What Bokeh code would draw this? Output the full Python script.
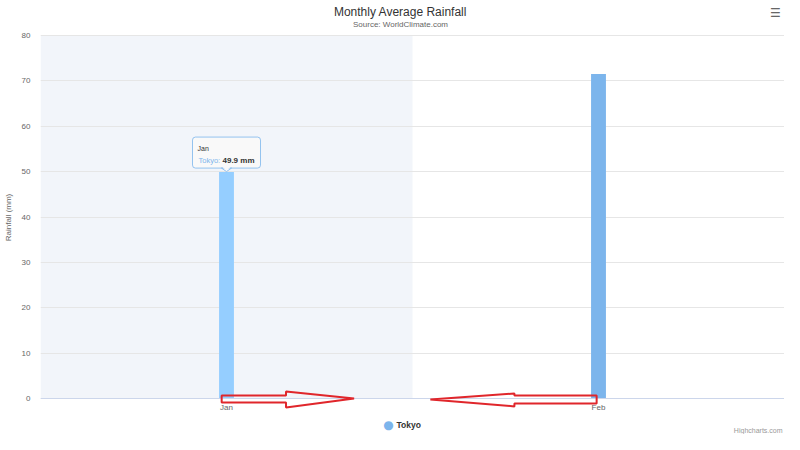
from bokeh.embed import file_html
from bokeh.resources import INLINE
from bokeh.plotting import figure
from bokeh.models import FixedTicker, Label, PolyAnnotation, BoxAnnotation

months = ["Jan", "Feb"]
tokyo = [49.9, 71.5]
y_ticks = [0, 10, 20, 30, 40, 50, 60, 70, 80]
series_name = "Tokyo"
unit = "mm"
hovered = 0  # index of the category with the tooltip

BLUE = "#7cb5ec"
BLUE_HOVER = "#95ceff"
RED = "#e0262b"
FONT = "Liberation Sans"

W, H = 784, 434
LEFT_PX = 40
TOP_PX, ZERO_PX = 35, 398   # where 80 and 0 sit, in pixels from the top
per_px = (y_ticks[-1] - y_ticks[0]) / (ZERO_PX - TOP_PX)
cat_px = (W - LEFT_PX) / len(months)

xs = list(range(len(months)))

# the frame spans the whole height so titles/legend can live inside it
p = figure(width=W, height=H, x_range=(-0.5, len(months) - 0.5),
           y_range=(y_ticks[0] - (H - ZERO_PX) * per_px,
                    y_ticks[-1] + TOP_PX * per_px),
           tools="", toolbar_location=None, output_backend="svg",
           min_border_left=LEFT_PX, min_border_right=0,
           min_border_top=0, min_border_bottom=0,
           outline_line_color=None)

# hover band behind the hovered category
band = p.quad(left=[xs[hovered] - 0.5], right=[xs[hovered] + 0.5],
              bottom=[y_ticks[0]], top=[y_ticks[-1]],
              fill_color="#f2f5fa", line_color=None)
band.level = "image"

colors = [BLUE_HOVER if i == hovered else BLUE for i in xs]
p.vbar(x=xs, top=tokyo, width=0.04, fill_color=colors, line_color=None)

# axes
p.xaxis.fixed_location = 0
p.xaxis.ticker = FixedTicker(ticks=xs)
p.xaxis.major_label_overrides = {i: m for i, m in enumerate(months)}
p.xaxis.axis_line_color = "#ccd6eb"
p.xaxis.major_tick_line_color = None
p.xaxis.major_tick_out = 0
p.xaxis.minor_tick_line_color = None
p.xaxis.major_label_standoff = 4

p.yaxis.ticker = FixedTicker(ticks=y_ticks)
p.yaxis.axis_label = "Rainfall (mm)"
p.yaxis.axis_line_color = None
p.yaxis.major_tick_line_color = None
p.yaxis.major_tick_out = 0
p.yaxis.minor_tick_line_color = None
p.yaxis.major_label_standoff = 10
p.yaxis.axis_label_standoff = 6

for ax in (p.xaxis, p.yaxis):
    ax.major_label_text_font = FONT
    ax.major_label_text_font_size = "8px"
    ax.major_label_text_color = "#666666"
    ax.axis_label_text_font = FONT
    ax.axis_label_text_font_size = "8px"
    ax.axis_label_text_font_style = "normal"
    ax.axis_label_text_color = "#666666"

p.xgrid.grid_line_color = None
p.ygrid.grid_line_color = "#e6e6e6"

# red hollow arrows drawn on the picture
a = xs[0]
p.add_layout(PolyAnnotation(
    xs=[a - 0.013, a + 0.16, a + 0.16, a + 0.343, a + 0.16, a + 0.16, a - 0.013],
    ys=[0.65, 0.65, 1.52, 0.0, -1.96, -0.87, -0.87],
    fill_alpha=0, line_color=RED, line_alpha=1, line_width=2))
b = xs[1]
p.add_layout(PolyAnnotation(
    xs=[b - 0.005, b - 0.226, b - 0.226, b - 0.452, b - 0.226, b - 0.226, b - 0.005],
    ys=[0.65, 0.65, 1.09, -0.22, -1.74, -1.09, -1.09],
    fill_alpha=0, line_color=RED, line_alpha=1, line_width=2))

# tooltip: box sized in pixels above the hovered bar, then its texts
hx, hy = xs[hovered], tokyo[hovered]
half_w = 34 / cat_px
box_bottom = hy + 4 * per_px
p.add_layout(BoxAnnotation(left=hx - half_w, right=hx + half_w,
                           bottom=box_bottom, top=hy + 35 * per_px,
                           fill_color="#f9f9f9", fill_alpha=0.95,
                           line_color=BLUE, line_alpha=0.8, line_width=1,
                           border_radius=3))
p.add_layout(PolyAnnotation(xs=[hx - 5 / cat_px, hx + 5 / cat_px, hx],
                            ys=[box_bottom, box_bottom, hy + 0.5 * per_px],
                            fill_color="#f9f9f9", fill_alpha=1,
                            line_color=BLUE, line_alpha=0.8, line_width=1))
p.add_layout(PolyAnnotation(xs=[hx - 4 / cat_px, hx + 4 / cat_px, hx],
                            ys=[box_bottom + 1.2 * per_px] * 2 + [hy + 1.5 * per_px],
                            fill_color="#f9f9f9", fill_alpha=1,
                            line_color=None))
p.add_layout(Label(x=hx, y=hy, x_offset=-29, y_offset=23.5,
                   text=months[hovered], text_baseline="middle",
                   text_font=FONT, text_font_size="7px", text_color="#333333"))
p.add_layout(Label(x=hx, y=hy, x_offset=-28, y_offset=11.5,
                   text=series_name + ":", text_baseline="middle",
                   text_font=FONT, text_font_size="7.5px", text_color=BLUE))
value_text = "%.1f %s" % (hy, unit)
p.add_layout(Label(x=hx, y=hy, x_offset=-4, y_offset=11.5,
                   text=value_text, text_baseline="middle",
                   text_font=FONT, text_font_size="8px",
                   text_font_style="bold", text_color="#333333"))

# titles, menu icon, legend and credits (screen units from frame bottom-left)
p.add_layout(Label(x=360, y=H - 11, x_units="screen", y_units="screen",
                   text="Monthly Average Rainfall", text_align="center",
                   text_baseline="middle", text_font=FONT,
                   text_font_size="12px", text_color="#333333"))
p.add_layout(Label(x=360, y=H - 24, x_units="screen", y_units="screen",
                   text="Source: WorldClimate.com", text_align="center",
                   text_baseline="middle", text_font=FONT,
                   text_font_size="8px", text_color="#666666"))
p.add_layout(Label(x=735, y=H - 12, x_units="screen", y_units="screen",
                   text="\u2630", text_align="center", text_baseline="middle",
                   text_font="DejaVu Sans", text_font_size="12px",
                   text_color="#666666"))
p.add_layout(Label(x=348, y=H - 424, x_units="screen", y_units="screen",
                   text="\u25cf", text_align="center", text_baseline="middle",
                   text_font="DejaVu Sans", text_font_size="12px",
                   text_color=BLUE))
p.add_layout(Label(x=356, y=H - 424, x_units="screen", y_units="screen",
                   text=series_name, text_baseline="middle",
                   text_font=FONT, text_font_size="8.5px",
                   text_font_style="bold", text_color="#333333"))
p.add_layout(Label(x=742, y=H - 430, x_units="screen", y_units="screen",
                   text="Highcharts.com", text_align="right",
                   text_baseline="middle", text_font=FONT,
                   text_font_size="7px", text_color="#999999"))

open("out.html", "w").write(file_html(p, INLINE))
